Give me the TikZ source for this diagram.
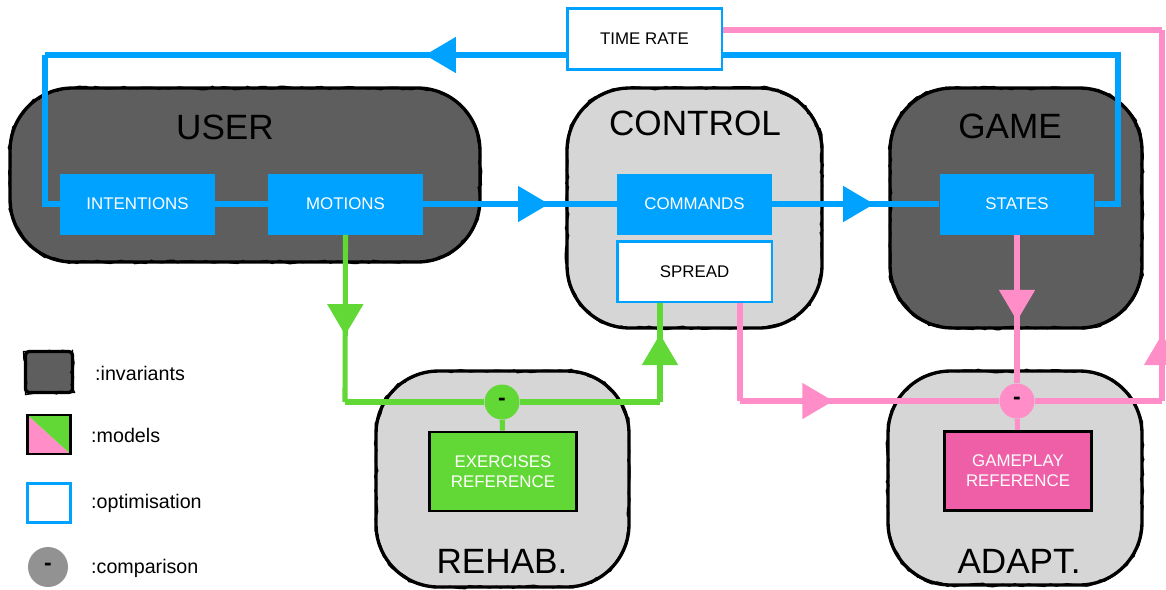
\documentclass[tikz,border=0pt]{standalone}
\usepackage{fontspec}
\setmainfont{Liberation Sans}
\usetikzlibrary{arrows.meta,decorations.markings,decorations.pathmorphing}
\definecolor{optblue}{HTML}{00A2FF}
\definecolor{modgreen}{HTML}{62D836}
\definecolor{modpink}{HTML}{FF8EC8}
\definecolor{refpink}{HTML}{EF5FA7}
\definecolor{invgray}{HTML}{5E5E5E}
\definecolor{ctlgray}{HTML}{D6D6D6}
\definecolor{cmpgray}{HTML}{929292}
\pgfdeclarelayer{blobs}
\pgfdeclarelayer{lines}
\pgfsetlayers{blobs,lines,main}
\newcommand{\boxfont}{\fontsize{9.6}{11.5}\selectfont}
\newcommand{\bigfont}{\fontsize{20}{22}\selectfont}
\newcommand{\legfont}{\fontsize{11.2}{13}\selectfont}
\newcommand{\dashfont}{\fontsize{13}{13}\selectfont\bfseries}
\tikzset{
  sketch/.style={draw=black, line width=1.9pt, rounded corners=1.25cm,
    postaction={draw=black, line width=0.8pt, sharp corners, decorate,
      decoration={random steps, segment length=3pt, amplitude=1pt}}},
  invblob/.style={sketch, fill=invgray},
  ctlblob/.style={sketch, fill=ctlgray},
  biglabel/.style={font=\bigfont, text=black},
  optbox/.style={fill=optblue, text=white, minimum width=3.1cm,
    minimum height=1.22cm, inner sep=0pt, font=\boxfont},
  optframe/.style={draw=optblue, line width=1.7pt, fill=white, text=black,
    minimum width=3.1cm, minimum height=1.22cm, inner sep=0pt, font=\boxfont},
  refbox/.style={draw=black, line width=1.6pt, text=white, align=center,
    minimum width=2.94cm, minimum height=1.58cm, inner sep=0pt, font=\boxfont},
  cmpnode/.style={circle, minimum size=0.7cm, inner sep=0pt, font=\dashfont},
  flow/.style={line width=2.9pt},
  blueln/.style={flow, draw=optblue},
  greenln/.style={flow, draw=modgreen},
  pinkln/.style={flow, draw=modpink},
  midarrow/.style={postaction={decorate, decoration={markings,
    mark=at position #1 with {\arrow{Triangle[length=0.62cm,width=0.7cm]}}}}},
  legtext/.style={anchor=west, font=\legfont}
}
\begin{document}
\begin{tikzpicture}[x=0.02cm, y=-0.02cm]
  \useasboundingbox (0,0) rectangle (1166,589);
  \begin{pgfonlayer}{blobs}
    \node[invblob, minimum width=9.4cm, minimum height=3.48cm] (user) at (245,175) {};
    \node[ctlblob, minimum width=5.1cm, minimum height=4.8cm] (control) at (694.5,208) {};
    \node[invblob, minimum width=5.04cm, minimum height=4.8cm] (game) at (1016,208) {};
    \node[ctlblob, minimum width=5.06cm, minimum height=4.32cm] (rehab) at (502.5,479) {};
    \node[ctlblob, minimum width=5.08cm, minimum height=4.28cm] (adapt) at (1015,478) {};
  \end{pgfonlayer}
  \node[biglabel] (userlbl) at (225,127) {USER};
  \node[biglabel] (controllbl) at (695,123) {CONTROL};
  \node[biglabel] (gamelbl) at (1010,126) {GAME};
  \node[biglabel] (rehablbl) at (502,561) {REHAB.};
  \node[biglabel] (adaptlbl) at (1019,561) {ADAPT.};

  \node[optbox] (intentions) at (137.5,204) {INTENTIONS};
  \node[optbox] (motions) at (345.5,204) {MOTIONS};
  \node[optbox] (commands) at (694.5,204) {COMMANDS};
  \node[optframe] (spread) at (694.5,271.5) {SPREAD};
  \node[optbox] (states) at (1017,204) {STATES};
  \node[optframe] (timerate) at (644.5,39) {TIME RATE};
  \node[refbox, fill=modgreen] (exref) at (503,471.5) {EXERCISES\\REFERENCE};
  \node[refbox, fill=refpink] (gpref) at (1018,471) {GAMEPLAY\\REFERENCE};
  \node[cmpnode, fill=modgreen] (cmpg) at (502,402) {-};
  \node[cmpnode, fill=modpink] (cmpp) at (1017,401) {-};

  \coordinate (b1) at (1118,55);
  \coordinate (b2) at (45,55);
  \coordinate (g1) at (345,402);
  \coordinate (g2) at (660,402);
  \coordinate (p1) at (740,401);
  \coordinate (p2) at (1162,401);
  \coordinate (p3) at (1162,30);

  \begin{pgfonlayer}{lines}
    \draw[blueln] (intentions) -- (motions);
    \draw[blueln, midarrow=0.65] (motions.east) -- (commands.west);
    \draw[blueln, midarrow=0.61] (commands.east) -- (states.west);
    \draw[blueln] (states.east) -| (b1) -- (b1 -| timerate.east);
    \draw[blueln, midarrow=0.27] (b2 -| timerate.west) -- (b2);
    \draw[blueln] (b2) |- (intentions.west);

    \draw[greenln, midarrow=0.6] (motions.south) -- (g1);
    \draw[greenln] (g1) -- (cmpg) -- (g2);
    \draw[greenln, midarrow=0.69] (g2) -- (g2 |- spread.south);
    \draw[greenln] (cmpg) -- (exref);

    \draw[pinkln] (p1 |- spread.south) -- (p1);
    \draw[pinkln, midarrow=0.36] (p1) -- (cmpp);
    \draw[pinkln, midarrow=0.58] (states.south) -- (cmpp);
    \draw[pinkln] (cmpp) -- (gpref);
    \draw[pinkln] (cmpp) -- (p2);
    \draw[pinkln, midarrow=0.18] (p2) -- (p3);
    \draw[pinkln] (p3) -- (p3 -| timerate.east);
  \end{pgfonlayer}

  \node[sketch, rounded corners=2pt, fill=invgray, minimum width=0.94cm, minimum height=0.82cm] (leginv) at (49,372) {};
  \node[draw=black, line width=1.4pt, minimum width=0.86cm, minimum height=0.78cm,
    path picture={
      \fill[modpink] (path picture bounding box.north west) -- (path picture bounding box.south west) -- (path picture bounding box.south east) -- cycle;
      \fill[modgreen] (path picture bounding box.north west) -- (path picture bounding box.north east) -- (path picture bounding box.south east) -- cycle;
    }] (legmod) at (49,434.5) {};
  \node[draw=optblue, line width=1.7pt, fill=white, minimum width=0.86cm, minimum height=0.78cm] (legopt) at (49,502.5) {};
  \node[cmpnode, fill=cmpgray, minimum size=0.8cm] (legcmp) at (48,567) {-};
  \node[legtext] (leginvtxt) at (89,373) {:invariants};
  \node[legtext] (legmodtxt) at (85,435) {:models};
  \node[legtext] (legopttxt) at (85,503) {:optimisation};
  \node[legtext] (legcmptxt) at (85,568) {:comparison};
\end{tikzpicture}
\end{document}
